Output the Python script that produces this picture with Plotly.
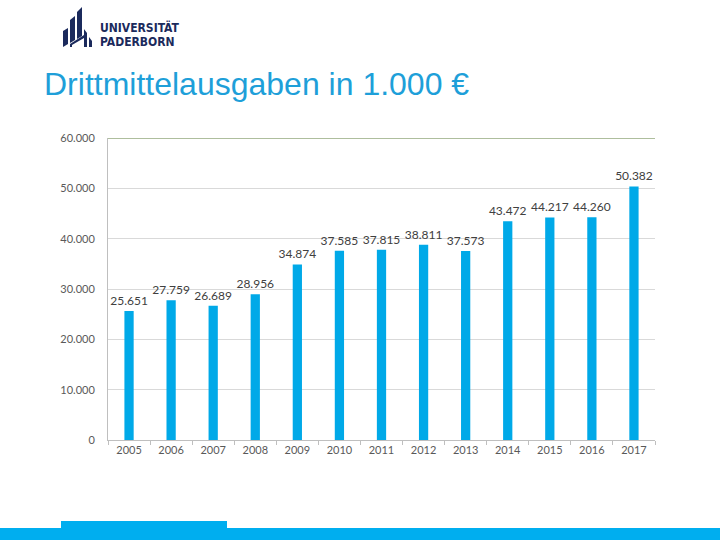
import plotly.graph_objects as go

years = ["2005", "2006", "2007", "2008", "2009", "2010", "2011",
         "2012", "2013", "2014", "2015", "2016", "2017"]
spending = [25651, 27759, 26689, 28956, 34874, 37585, 37815,
            38811, 37573, 43472, 44217, 44260, 50382]
y_ticks = [0, 10000, 20000, 30000, 40000, 50000, 60000]

labels = [f"{v:,}".replace(",", ".") for v in spending]

W, H = 720, 540
L, R, T, B = 108, 655, 138, 440  # plot area in pixels


def px(x):
    return (x - L) / (R - L)


def py(y):
    return (B - y) / (B - T)


fig = go.Figure()
fig.add_trace(go.Bar(
    x=years, y=spending, text=labels, textposition="outside",
    constraintext="none", cliponaxis=False,
    marker=dict(color="#00a9e8", line=dict(width=0)),
    textfont=dict(family="Lato, Noto Sans, sans-serif", size=12, color="#404040"),
    hoverinfo="x+y",
))

navy = "#1b2a5c"
shapes = [
    dict(type="line", xref="paper", yref="y", x0=0, x1=1, y0=60000, y1=60000,
         line=dict(color="#5f7f3c", width=1.2)),
    dict(type="rect", xref="paper", yref="paper", x0=px(0), x1=px(720),
         y0=py(541), y1=py(528), fillcolor="#00aeef", line=dict(width=0)),
    dict(type="rect", xref="paper", yref="paper", x0=px(61), x1=px(227),
         y0=py(529), y1=py(521), fillcolor="#00aeef", line=dict(width=0)),
]


def poly(points):
    d = "M " + " L ".join(f"{px(x):.5f},{py(y):.5f}" for x, y in points) + " Z"
    return dict(type="path", xref="paper", yref="paper", path=d,
                fillcolor=navy, line=dict(width=0))


# logo icon (approximation)
shapes += [
    poly([(63, 31), (68, 28), (68, 44), (63, 47)]),
    poly([(70, 20), (75, 16), (75, 40), (70, 43)]),
    poly([(77, 12), (82, 7), (82, 36), (77, 39)]),
    poly([(84, 29), (87, 33), (87, 47), (84, 47), (84, 38), (72, 45), (72, 47),
          (70, 47), (70, 44), (84, 35)]),
    poly([(89, 37), (92, 41), (92, 47), (89, 47)]),
]

logo_font = dict(family="Liberation Sans Narrow, DejaVu Sans Condensed, sans-serif",
                 size=12, color=navy)
annotations = [
    dict(text="Drittmittelausgaben in 1.000 €", xref="paper", yref="paper",
         x=px(42), y=py(84), xanchor="left", yanchor="middle", showarrow=False,
         font=dict(family="Liberation Sans, Arial, sans-serif", size=32, color="#1e9fd9")),
    dict(text="<b>UNIVERSITÄT</b>", xref="paper", yref="paper",
         x=px(98), y=py(27), xanchor="left", yanchor="middle", showarrow=False,
         font=logo_font),
    dict(text="<b>PADERBORN</b>", xref="paper", yref="paper",
         x=px(98), y=py(41.5), xanchor="left", yanchor="middle", showarrow=False,
         font=logo_font),
]

fig.update_layout(
    width=W, height=H,
    margin=dict(l=L, r=W - R, t=T, b=H - B, pad=0),
    paper_bgcolor="white", plot_bgcolor="white",
    showlegend=False, bargap=0.78,
    separators=",.",
    shapes=shapes, annotations=annotations,
    font=dict(family="Lato, Noto Sans, sans-serif", size=11, color="#595959"),
    xaxis=dict(type="category", showgrid=False, showline=True,
               linecolor="#bfbfbf", linewidth=1, ticks="outside",
               tickson="boundaries", ticklen=4, tickcolor="#bfbfbf",
               tickfont=dict(size=11, color="#595959")),
    yaxis=dict(range=[0, 60000], tickvals=y_ticks, tickformat=",d",
               showgrid=True, gridcolor="#d9d9d9", gridwidth=1,
               showline=True, linecolor="#bfbfbf", linewidth=1,
               zeroline=False, ticks="", ticklabelstandoff=10,
               tickfont=dict(size=11, color="#595959")),
)

fig.write_html("out.html", config={"displayModeBar": False},
               post_script="document.body.style.margin='0';")
